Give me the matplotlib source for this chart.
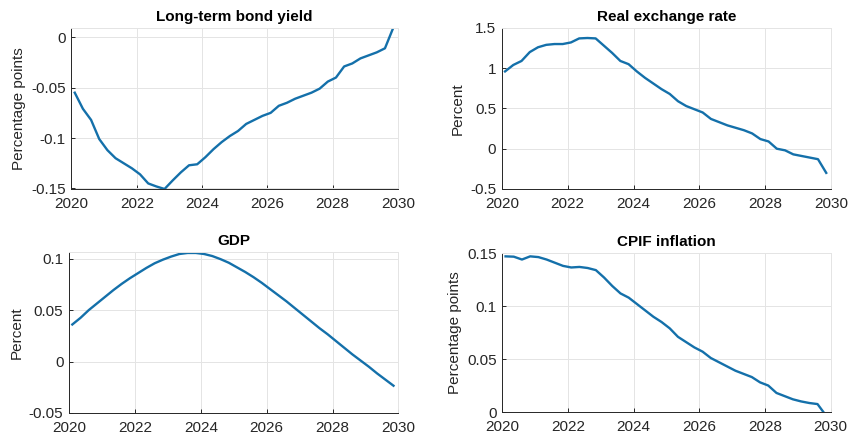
import numpy as np
import matplotlib
matplotlib.use("Agg")
import matplotlib.pyplot as plt

# Quarterly horizon, 2020 to 2029
fechas = 2020.1 + 0.25 * np.arange(40)

bond_yield = [-0.055, -0.071, -0.082, -0.101, -0.112, -0.120, -0.125, -0.130,
              -0.136, -0.145, -0.148, -0.1505, -0.142, -0.134, -0.127, -0.126,
              -0.119, -0.111, -0.104, -0.098, -0.093, -0.086, -0.082, -0.078,
              -0.075, -0.068, -0.065, -0.061, -0.058, -0.055, -0.051, -0.044,
              -0.040, -0.029, -0.026, -0.021, -0.018, -0.015, -0.011, 0.009]

real_exchange = [0.96, 1.04, 1.09, 1.20, 1.26, 1.29, 1.30, 1.30,
                 1.32, 1.37, 1.375, 1.37, 1.28, 1.19, 1.09, 1.05,
                 0.96, 0.88, 0.81, 0.74, 0.68, 0.59, 0.53, 0.49,
                 0.45, 0.37, 0.33, 0.29, 0.26, 0.23, 0.19, 0.12,
                 0.09, 0.00, -0.02, -0.07, -0.09, -0.11, -0.13, -0.30]

gdp = [0.036, 0.0425, 0.050, 0.0565, 0.063, 0.0695, 0.0755, 0.081,
       0.086, 0.091, 0.0955, 0.099, 0.102, 0.1045, 0.1055, 0.1055,
       0.1045, 0.1025, 0.0995, 0.096, 0.0915, 0.087, 0.082, 0.0765,
       0.0705, 0.0645, 0.0585, 0.052, 0.0455, 0.039, 0.0325, 0.0265,
       0.020, 0.0135, 0.007, 0.001, -0.005, -0.0115, -0.0175, -0.0235]

cpif = [0.147, 0.1467, 0.144, 0.147, 0.1463, 0.144, 0.141, 0.138,
        0.1365, 0.137, 0.136, 0.134, 0.127, 0.119, 0.112, 0.108,
        0.102, 0.096, 0.090, 0.085, 0.079, 0.071, 0.066, 0.061,
        0.057, 0.051, 0.047, 0.043, 0.039, 0.036, 0.033, 0.028,
        0.025, 0.018, 0.015, 0.012, 0.010, 0.0085, 0.0075, -0.003]

xticks = [2020, 2022, 2024, 2026, 2028, 2030]

paneles = [
    # (datos, titulo, etiqueta y, limites y, ticks y, textos y, posicion)
    (bond_yield, "Long-term bond yield", "Percentage points", (-0.1505, 0.0092),
     [-0.15, -0.1, -0.05, 0], ["-0.15", "-0.1", "-0.05", "0"],
     [0.0842, 0.5705, 0.3846, 0.366]),
    (real_exchange, "Real exchange rate", "Percent", (-0.5, 1.5),
     [-0.5, 0, 0.5, 1, 1.5], ["-0.5", "0", "0.5", "1", "1.5"],
     [0.591, 0.5705, 0.388, 0.366]),
    (gdp, "GDP", "Percent", (-0.05, 0.1065),
     [-0.05, 0, 0.05, 0.1], ["-0.05", "0", "0.05", "0.1"],
     [0.0813, 0.0614, 0.388, 0.366]),
    (cpif, "CPIF inflation", "Percentage points", (0, 0.15),
     [0, 0.05, 0.1, 0.15], ["0", "0.05", "0.1", "0.15"],
     [0.5916, 0.0636, 0.3868, 0.361]),
]

plt.rcParams['font.family'] = ['Liberation Sans', 'DejaVu Sans']

fig = plt.figure(figsize=(8.49, 4.4), dpi=100)

for datos, titulo, ylab, ylim, yt, ytl, pos in paneles:
    ax = fig.add_axes(pos)
    ax.plot(fechas, datos, color='#1470aa', lw=1.7, solid_joinstyle='round')
    ax.set_xlim(2020, 2030)
    ax.set_ylim(*ylim)
    ax.set_xticks(xticks)
    ax.set_xticklabels([str(t) for t in xticks])
    ax.set_yticks(yt)
    ax.set_yticklabels(ytl)
    ax.grid(True, color='#e4e4e4', lw=0.7)
    ax.set_axisbelow(True)
    for lado in ['top', 'right']:
        ax.spines[lado].set_color('#e4e4e4')
        ax.spines[lado].set_linewidth(0.7)
    for lado in ['left', 'bottom']:
        ax.spines[lado].set_color('#262626')
        ax.spines[lado].set_linewidth(0.7)
    ax.tick_params(direction='in', length=3, width=0.7, labelsize=11,
                   colors='#262626')
    ax.tick_params(axis='x', pad=5.5)
    ax.tick_params(axis='y', pad=4)
    ax.set_title(titulo, fontsize=11, fontweight='bold', pad=5)
    ax.set_ylabel(ylab, fontsize=11, color='#262626', labelpad=4)

fig.savefig("out.png", dpi=100)
